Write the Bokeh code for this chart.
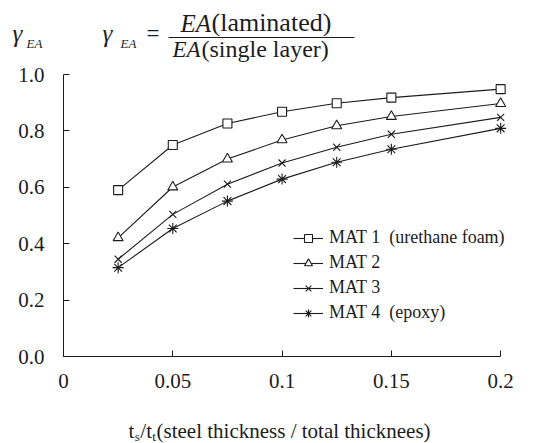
from bokeh.plotting import figure
from bokeh.models import Range1d, FixedTicker, NumeralTickFormatter, Legend, LegendItem
from bokeh.layouts import column
from bokeh.embed import file_html
from bokeh.resources import INLINE
from bokeh.core.properties import value

# ---------------- data ----------------
ratio = [0.025, 0.05, 0.075, 0.1, 0.125, 0.15, 0.2]
mat1 = [0.590, 0.750, 0.826, 0.868, 0.898, 0.918, 0.948]
mat2 = [0.421, 0.601, 0.700, 0.768, 0.818, 0.851, 0.897]
mat3 = [0.345, 0.504, 0.611, 0.686, 0.742, 0.788, 0.848]
mat4 = [0.315, 0.454, 0.551, 0.629, 0.689, 0.735, 0.809]
series_labels = ["MAT 1  (urethane foam)", "MAT 2", "MAT 3", "MAT 4  (epoxy)"]
x_ticks = [0, 0.05, 0.1, 0.15, 0.2]
y_ticks = [0.0, 0.2, 0.4, 0.6, 0.8, 1.0]

SERIF = "'Liberation Serif', 'Times New Roman', Times, serif"
INK = "#1c1c1c"

W = 548
HEAD_H = 62
MAIN_H = 338
FOOT_H = 443 - HEAD_H - MAIN_H


def mid(baseline, size_px):
    # vertical centre of the text box for a given alphabetic baseline
    return baseline - 0.3375 * size_px


# ---------------- heading strip: gamma label and formula ----------------
head = figure(width=W, height=HEAD_H, x_range=Range1d(0, W), y_range=Range1d(HEAD_H, 0),
              toolbar_location=None, output_backend="svg", x_axis_type=None, y_axis_type=None,
              min_border=0, title_location=None)
head.outline_line_color = None
head.grid.visible = False
head.frame_align = False


def htxt(x, base, s, size, style="normal"):
    head.text(x=[x], y=[mid(base, size)], text=[s], text_font=value(SERIF),
              text_font_size=f"{size}px", text_font_style=style, text_align="left",
              text_baseline="middle", text_color=INK)


htxt(12, 41, "γ", 25, "italic")
htxt(26, 47, "EA", 13, "italic")
htxt(102, 41, "γ", 25, "italic")
htxt(120, 47, "EA", 13, "italic")
htxt(146, 41, "=", 23)
htxt(180, 31, "EA", 25, "italic")
htxt(211, 31, "(laminated)", 26)
htxt(172, 57, "EA", 23, "italic")
htxt(201, 57, "(single layer)", 24)
head.segment(x0=[168], y0=[37], x1=[354], y1=[37], line_color=INK, line_width=1.2)

# ---------------- main chart ----------------
FRAME_TOP = 74 - HEAD_H          # 1.0 at page y 74
FRAME_H = 355.7 - 74             # 0.0 at page y 355.7
p = figure(width=W, height=MAIN_H,
           x_range=Range1d(0, 0.21), y_range=Range1d(0, 1.0),
           toolbar_location=None, output_backend="svg", title_location=None,
           min_border_left=63, min_border_right=26, min_border_top=FRAME_TOP,
           min_border_bottom=int(round(MAIN_H - FRAME_TOP - FRAME_H)))
p.outline_line_color = None
p.grid.visible = False
p.background_fill_color = "white"
p.border_fill_color = "white"
p.frame_align = False

for ax in (p.xaxis[0], p.yaxis[0]):
    ax.axis_line_color = INK
    ax.axis_line_width = 1
    ax.major_tick_line_color = INK
    ax.major_tick_in = 6
    ax.major_tick_out = 0
    ax.minor_tick_line_color = None
    ax.major_label_text_font = SERIF
    ax.major_label_text_font_size = "21px"
    ax.major_label_text_color = INK

p.xaxis.ticker = FixedTicker(ticks=x_ticks)
p.xaxis.formatter = NumeralTickFormatter(format="0.[00]")
p.xaxis.bounds = (0, 0.2)
p.xaxis.major_label_standoff = 17
p.yaxis.ticker = FixedTicker(ticks=y_ticks)
p.yaxis.formatter = NumeralTickFormatter(format="0.0")
p.yaxis.bounds = (0, 1.0)
p.yaxis.major_label_standoff = 19

markers = [("square", 9, "white"), ("triangle", 10, "white"), ("x", 10, None), ("asterisk", 11, None)]
items = []
for vals, lab, (mk, sz, fc) in zip([mat1, mat2, mat3, mat4], series_labels, markers):
    rl = p.line(ratio, vals, line_color=INK, line_width=1.1)
    rm = p.scatter(ratio, vals, marker=mk, size=sz, line_color=INK, line_width=1.1,
                   fill_color=fc if fc else INK)
    items.append(LegendItem(label=lab, renderers=[rl, rm]))

legend = Legend(items=items, location=(230, 33), padding=0, margin=0, spacing=4,
                glyph_width=30, glyph_height=20, label_height=20, label_standoff=6,
                label_text_font=SERIF, label_text_font_size="18px", label_text_color=INK,
                label_text_baseline="middle",
                border_line_color=None, background_fill_alpha=0)
p.add_layout(legend)

# ---------------- x-axis title strip ----------------
F0 = HEAD_H + MAIN_H
foot = figure(width=W, height=FOOT_H, x_range=Range1d(0, W), y_range=Range1d(443, F0),
              toolbar_location=None, output_backend="svg", x_axis_type=None, y_axis_type=None,
              min_border=0, title_location=None)
foot.outline_line_color = None
foot.grid.visible = False
foot.frame_align = False


def ftxt(px, base, s, size):
    foot.text(x=[px], y=[mid(base, size)], text=[s], text_font=value(SERIF),
              text_font_size=f"{size}px", text_align="left", text_baseline="middle",
              text_color=INK)


ftxt(128, 437.5, "t", 21)
ftxt(134.2, 440.5, "s", 13)
ftxt(139.8, 437.5, "/t", 21)
ftxt(151.8, 440.5, "t", 13)
ftxt(156, 437.5, "(steel thickness / total thicknees)", 21)

layout = column(head, p, foot, spacing=0)
open("out.html", "w").write(file_html(layout, INLINE))
